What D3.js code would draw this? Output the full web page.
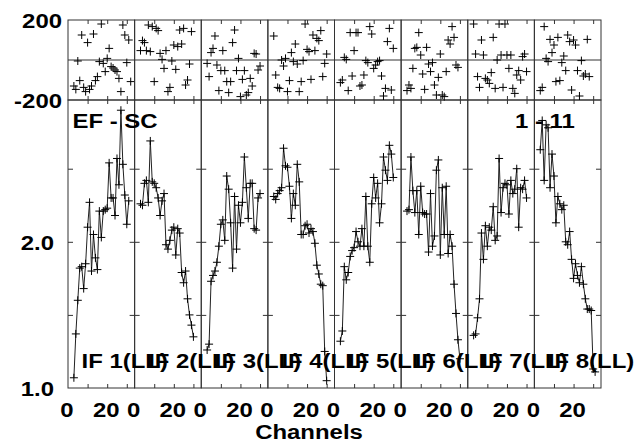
<!DOCTYPE html>
<html><head><meta charset="utf-8">
<script src="https://cdn.jsdelivr.net/npm/d3@7/dist/d3.min.js"></script>
<style>
body{margin:0;background:#fff}
svg{display:block}
text{font-family:"Liberation Sans",Arial,sans-serif;font-weight:bold;font-size:21px;fill:#000}
</style></head><body>
<svg id="chart" width="639" height="442"></svg>
<script>
const ifLabels = ["IF 1(LL)","IF 2(LL)","IF 3(LL)","IF 4(LL)","IF 5(LL)","IF 6(LL)","IF 7(LL)","IF 8(LL)"];
const baselineLabel = "EF - SC";
const timeLabel = "1 - 11";
const xAxisTitle = "Channels";
const firstChannel = 3;

const amp1 = [1.07,1.37,1.60,1.82,1.83,1.68,1.85,2.10,2.27,1.80,2.05,1.89,1.81,2.21,2.03,2.21,2.22,2.23,2.54,2.30,2.30,2.18,2.57,2.39,2.90,2.53,2.32,2.12,2.28];
const amp2 = [2.26,2.25,2.40,2.42,2.27,2.69,2.41,2.40,2.37,2.30,2.18,2.28,2.33,1.98,1.95,2.01,2.08,2.10,1.91,2.09,2.06,1.79,1.72,1.80,1.61,1.50,1.43,1.35];
const amp3 = [1.26,1.30,1.73,1.77,1.80,1.86,1.97,2.12,2.15,2.01,2.45,2.36,2.13,1.82,2.31,1.95,2.25,2.13,2.27,2.58,2.37,2.16,2.40,2.40,2.09,2.08,2.30,2.33];
const amp4 = [2.31,2.29,2.33,2.35,2.37,2.64,2.52,2.51,2.38,2.16,2.33,2.25,2.53,2.41,2.05,2.05,2.11,2.12,2.06,2.09,2.07,1.99,1.84,1.78,1.71,1.70,1.25,1.05];
const amp5 = [1.32,1.39,1.83,1.74,1.79,1.90,1.94,1.96,2.07,2.00,1.97,2.09,1.97,2.31,1.97,1.86,2.26,2.44,2.30,2.40,2.13,2.26,2.58,2.49,2.42,2.66,2.60,2.44];
const amp6 = [2.21,2.22,2.58,2.35,2.20,2.35,2.05,2.38,2.20,2.19,2.19,1.93,2.33,1.97,2.04,2.49,2.56,1.91,2.37,2.05,2.38,1.92,2.05,1.97,1.71,1.51,1.33,1.20];
const amp7 = [1.36,1.37,1.48,1.61,2.06,1.88,2.11,1.97,2.10,2.08,2.24,2.01,2.04,2.57,2.20,2.37,2.40,2.39,2.19,2.42,2.33,2.36,2.50,2.10,2.37,2.36,2.42,2.30];
const amp8 = [2.63,2.83,2.42,2.80,2.78,2.37,2.60,2.45,2.13,2.31,2.26,2.22,2.25,2.00,1.98,2.07,1.88,1.75,1.85,1.77,1.72,1.83,1.71,1.61,1.54,1.54,1.53,1.13,1.11];

const phase1 = [-130,-147,-5,-103,125,-137,-158,87,-147,-130,130,-103,-83,-8,180,-17,-58,8,58,-33,-40,-50,-58,-92,-158,175,125,-13,100,-108];
const phase2 = [47,97,87,47,175,42,167,-108,158,147,33,3,-42,47,-158,-137,-5,75,-47,67,150,80,158,-125,-100,-20,142];
const phase3 = [-17,-83,37,58,120,-25,-153,-53,47,-53,-108,-163,-108,87,150,-53,8,-183,-97,-53,-175,-163,-92,-130,33,30,-50,-30];
const phase4 = [120,-75,-137,-142,0,-30,8,-158,-103,37,-8,80,-20,-158,-108,-3,180,53,42,-97,125,47,108,97,147,-83,-17,30];
const phase5 = [-113,-100,13,3,-153,137,-80,47,137,137,-130,-125,-75,-3,-13,167,130,-42,-25,-8,-3,-80,-180,-142,92,158,-150,58];
const phase6 = [-153,-125,-142,-42,58,63,137,25,-70,-147,63,-20,-58,-13,-125,-175,-87,30,-175,-183,-58,100,80,167,113,-25,-37];
const phase7 = [180,30,-83,-137,100,25,-92,-100,-117,-63,113,-142,0,180,25,-137,180,25,-42,25,-142,-167,-75,-53,-100,17,30,-58];
const phase8 = [-153,-137,167,8,-8,103,37,75,-108,113,-103,-13,20,-53,125,92,-150,100,75,-53,-180,-3,-80,-70,103,-83];

const amps = [amp1,amp2,amp3,amp4,amp5,amp6,amp7,amp8];
const phases = [phase1,phase2,phase3,phase4,phase5,phase6,phase7,phase8];

const xTickMarks = [10,20,30];
const xTickLabels = [0,20];
const ampTickMarks = [1.5,2.0,2.5];
const ampTickLabels = [1.0,2.0];
const phaseTickLabels = [200,-200];

const svg = d3.select("#chart");
const plotL = 68, plotR = 601, phaseTop = 20, phaseBot = 100, ampBot = 388;
const pw = (plotR - plotL) / amps.length;
const stretch = 1.14;

const yPhase = d3.scaleLinear().domain([-200,200]).range([phaseBot, phaseTop]);
const yAmp = d3.scaleLinear().domain([1.0, 2.97]).range([ampBot, phaseBot]);

function label(x, y, str, anchor){
  svg.append("text").attr("transform",`translate(${x},${y}) scale(${stretch},1)`)
    .attr("text-anchor", anchor || "start").text(str);
}
function plus(g, x, y){
  g.append("path").attr("d", `M${x-4},${y}H${x+4}M${x},${y-4}V${y+4}`)
   .attr("stroke","#000").attr("stroke-width",1).attr("fill","none");
}

amps.forEach((amp, p) => {
  const left = plotL + p*pw;
  const x = d3.scaleLinear().domain([0,34]).range([left, left+pw]);
  const g = svg.append("g");

  g.append("rect").attr("x",left).attr("y",phaseTop).attr("width",pw).attr("height",phaseBot-phaseTop)
    .attr("fill","none").attr("stroke","#333").attr("stroke-width",1);
  g.append("rect").attr("x",left).attr("y",phaseBot).attr("width",pw).attr("height",ampBot-phaseBot)
    .attr("fill","none").attr("stroke","#333").attr("stroke-width",1);
  g.append("line").attr("x1",left).attr("x2",left+pw).attr("y1",yPhase(0)).attr("y2",yPhase(0))
    .attr("stroke","#333").attr("stroke-width",1);

  const tickAxes = [
    {y:phaseTop, ax:d3.axisTop(x)},
    {y:phaseBot, ax:d3.axisBottom(x)},
    {y:phaseBot, ax:d3.axisTop(x)},
    {y:ampBot, ax:d3.axisBottom(x)}
  ];
  tickAxes.forEach(t => {
    const a = svg.append("g").attr("transform",`translate(0,${t.y})`)
      .call(t.ax.tickValues(xTickMarks).tickSize(-4).tickSizeOuter(0).tickFormat(""));
    a.select(".domain").remove();
    a.selectAll("line").attr("stroke","#333");
  });
  const la = svg.append("g").attr("transform",`translate(${left},0)`)
    .call(d3.axisLeft(yAmp).tickValues(ampTickMarks).tickSize(-5).tickFormat(""));
  la.select(".domain").remove(); la.selectAll("line").attr("stroke","#333");
  const ra = svg.append("g").attr("transform",`translate(${left+pw},0)`)
    .call(d3.axisRight(yAmp).tickValues(ampTickMarks).tickSize(-5).tickFormat(""));
  ra.select(".domain").remove(); ra.selectAll("line").attr("stroke","#333");

  xTickLabels.forEach(v => label(x(v)-1, 417, v, "middle"));

  const line = d3.line().x((d,i)=>x(firstChannel+i)).y(d=>yAmp(d));
  g.append("path").datum(amp).attr("d",line).attr("fill","none").attr("stroke","#222").attr("stroke-width",1);
  amp.forEach((d,i)=>plus(g, x(firstChannel+i), yAmp(d)));

  phases[p].forEach((d,i)=>plus(g, x(firstChannel+i), yPhase(d)));
});

amps.forEach((amp,p)=> label(plotL + p*pw + 13.5, 368, ifLabels[p]));

phaseTickLabels.forEach(v => label(62, yPhase(v)+8, v, "end"));
ampTickLabels.forEach(v => label(54, yAmp(v)+8, d3.format(".1f")(v), "end"));

label(72.5, 128, baselineLabel);
label(515, 128, timeLabel);
label(309, 439, xAxisTitle, "middle");
</script>
</body></html>
